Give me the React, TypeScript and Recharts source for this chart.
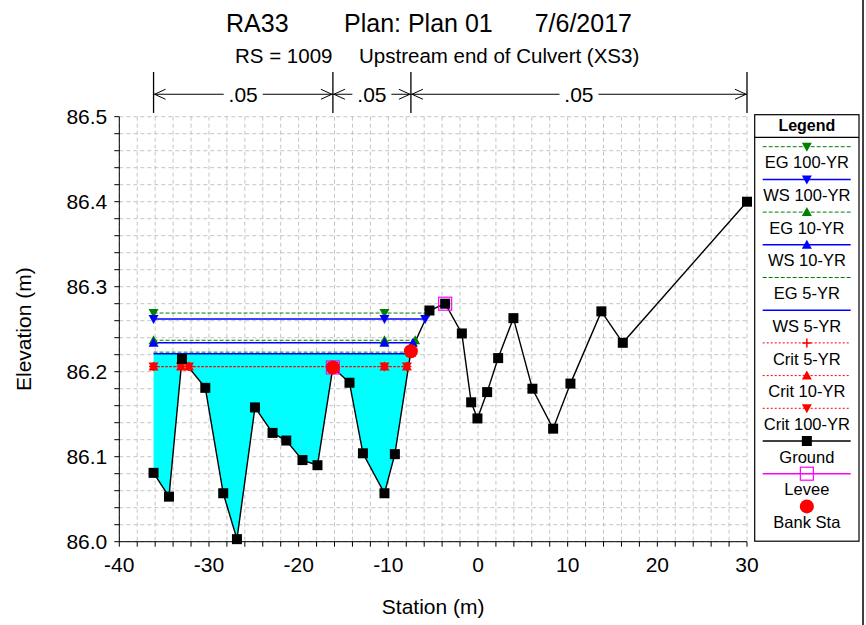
import React from 'react';
import { ComposedChart, Line, Area, XAxis, YAxis, CartesianGrid, ReferenceLine } from 'recharts';

// ground profile (station m, elevation m)
const groundStation = [-36.18, -34.46, -33.01, -30.41, -28.41, -26.88, -24.87, -22.91, -21.38, -19.57, -17.9,
  -16.18, -14.33, -12.83, -10.43, -9.27, -7.48, -5.41, -3.66, -1.8, -0.76, -0.06, 1.02, 2.25, 3.95, 6.07,
  8.38, 10.31, 13.76, 16.15, 30.0];
const groundElev = [86.081, 86.053, 86.215, 86.181, 86.057, 86.003, 86.158, 86.128, 86.119, 86.096, 86.09,
  86.205, 86.187, 86.104, 86.057, 86.103, 86.224, 86.272, 86.28, 86.245, 86.164, 86.145, 86.176, 86.216,
  86.263, 86.18, 86.133, 86.186, 86.271, 86.234, 86.4];

const leveeStation = [-16.18, -3.66];
const leveeElev = [86.205, 86.28];
const bankStation = [-16.18, -7.48];
const bankElev = [86.205, 86.224];

// water surfaces
const wsNames = ['EG 100-YR', 'WS 100-YR', 'EG 10-YR', 'WS 10-YR', 'EG 5-YR', 'WS 5-YR'];
const wsLevels = [86.269, 86.262, 86.237, 86.234, 86.223, 86.221];
const wsStations = [
  [-36.18, -10.43, -5.48],
  [-36.18, -10.43, -5.89],
  [-36.18, -10.43, -7.0],
  [-36.18, -10.43, -7.26],
  [-36.18, -7.5],
  [-36.18, -7.52],
];
const critNames = ['Crit 5-YR', 'Crit 10-YR', 'Crit 100-YR'];
const critLevel = 86.206;
const critStations = [-36.18, -33.12, -32.23, -16.18, -10.43, -7.93];
const fillEndStation = -7.52; // WS 5-YR meets ground here
const fillLevel = 86.221;

// manning's n breaks
const nBreaks = [-36.18, -16.18, -7.48, 30];
const nValues = ['.05', '.05', '.05'];

const legendNames = [...wsNames, ...critNames, 'Ground', 'Levee', 'Bank Sta'];

const xTicks = Array.from({ length: 36 }, (_, i) => -40 + 2 * i);
const yTicks = Array.from({ length: 26 }, (_, i) => +(86 + 0.02 * i).toFixed(2));

const GREEN = '#008000';
const BLUE = '#0000ff';
const RED = '#ff0000';

const styles: Record<string, { stroke: string; dash?: string; width: number; marker?: string; color?: string }> = {
  'EG 100-YR': { stroke: GREEN, dash: '4 2', width: 1, marker: 'down' },
  'WS 100-YR': { stroke: BLUE, width: 1.5, marker: 'down' },
  'EG 10-YR': { stroke: GREEN, dash: '4 2', width: 1, marker: 'up' },
  'WS 10-YR': { stroke: BLUE, width: 1.5, marker: 'up' },
  'EG 5-YR': { stroke: GREEN, dash: '4 2', width: 1 },
  'WS 5-YR': { stroke: BLUE, width: 1.5 },
  'Crit 5-YR': { stroke: RED, dash: '2 2', width: 1, marker: 'plus' },
  'Crit 10-YR': { stroke: RED, dash: '2 2', width: 1, marker: 'up' },
  'Crit 100-YR': { stroke: RED, dash: '2 2', width: 1, marker: 'down' },
  'Ground': { stroke: '#000', width: 1.4, marker: 'square' },
  'Levee': { stroke: '#ff00ff', width: 1.5, marker: 'open' },
  'Bank Sta': { stroke: 'none', width: 0, marker: 'circle', color: RED },
};

function Marker({ kind, color, cx, cy }: { kind?: string; color: string; cx: number; cy: number }) {
  if (kind === 'down')
    return <polygon points={`${cx - 5},${cy - 4} ${cx + 5},${cy - 4} ${cx},${cy + 5}`} fill={color} />;
  if (kind === 'up')
    return <polygon points={`${cx - 5},${cy + 4} ${cx + 5},${cy + 4} ${cx},${cy - 5}`} fill={color} />;
  if (kind === 'plus')
    return <path d={`M${cx - 4.5},${cy}H${cx + 4.5}M${cx},${cy - 4.5}V${cy + 4.5}`} stroke={color} strokeWidth={1.5} />;
  if (kind === 'square') return <rect x={cx - 5} y={cy - 5} width={10} height={10} fill={color} />;
  if (kind === 'open')
    return <rect x={cx - 6.5} y={cy - 6.5} width={13} height={13} fill="none" stroke="#ff00ff" strokeWidth={1.2} />;
  if (kind === 'circle') return <circle cx={cx} cy={cy} r={7} fill={color} />;
  return <g />;
}

const dotFor = (name: string) => (p: any) => {
  const s = styles[name];
  return <Marker key={`${name}-${p.index}`} kind={s.marker} color={s.color || s.stroke} cx={p.cx} cy={p.cy} />;
};

const groundData = groundStation.map((x, i) => ({ x, y: groundElev[i] }));
const leveeData = leveeStation.map((x, i) => ({ x, y: leveeElev[i] }));
const bankData = bankStation.map((x, i) => ({ x, y: bankElev[i] }));
const wsData = wsStations.map((xs, i) => xs.map(x => ({ x, y: wsLevels[i] })));
const critData = critStations.map(x => ({ x, y: critLevel }));
const fillData = [
  ...groundStation.filter(x => x < fillEndStation).map((x, i) => ({ x, r: [groundElev[i], fillLevel] })),
  { x: fillEndStation, r: [fillLevel, fillLevel] },
];

const nY = 86.5264;
const nSpan = (label: string) => (p: any) => {
  const { x1, x2, y1 } = p;
  const mid = (x1 + x2) / 2;
  const half = 19.5;
  return (
    <g>
      <line x1={x1} y1={y1} x2={mid - half} y2={y1} stroke="#000" />
      <line x1={mid + half} y1={y1} x2={x2} y2={y1} stroke="#000" />
      <polyline points={`${x1 + 12},${y1 - 5} ${x1 + 1},${y1} ${x1 + 12},${y1 + 5}`} fill="none" stroke="#000" />
      <polyline points={`${x2 - 12},${y1 - 5} ${x2 - 1},${y1} ${x2 - 12},${y1 + 5}`} fill="none" stroke="#000" />
      <text x={mid} y={y1} dy="0.36em" textAnchor="middle" fontSize={21} fill="#000">{label}</text>
    </g>
  );
};

const fmtX = (v: number) => (v % 10 === 0 ? String(v) : '');
const fmtY = (v: number) => (Math.abs(v * 10 - Math.round(v * 10)) < 1e-6 ? v.toFixed(1) : '');

function LegendBox() {
  const left = 754.7, top = 114.7, w = 104.3, h = 426.5;
  const cx = left + w / 2;
  return (
    <g>
      <rect x={left} y={top} width={w} height={h} fill="#fff" stroke="#000" strokeWidth={1.2} />
      <line x1={left} y1={137.3} x2={left + w} y2={137.3} stroke="#000" strokeWidth={1.2} />
      <text x={cx} y={131} textAnchor="middle" fontSize={16} fontWeight="bold">Legend</text>
      {legendNames.map((name, i) => {
        const s = styles[name];
        const y = 146.7 + 32.7 * i;
        return (
          <g key={name}>
            {s.stroke !== 'none' && (
              <line x1={762.7} y1={y} x2={850.7} y2={y} stroke={s.stroke} strokeWidth={s.width} strokeDasharray={s.dash} />
            )}
            <Marker kind={s.marker} color={s.color || s.stroke} cx={cx} cy={y} />
            <text x={cx} y={y + 21.6} textAnchor="middle" fontSize={16.5}>{name}</text>
          </g>
        );
      })}
    </g>
  );
}

export default function App() {
  return (
    <div style={{ position: 'absolute', left: 0, top: 0, width: 866, height: 625, background: '#fff',
      fontFamily: '"Liberation Sans", Arial, sans-serif' }}>
      <ComposedChart width={866} height={625} margin={{ top: 116.7, right: 119, bottom: 0, left: 0 }}>
        <CartesianGrid stroke="#c4c4c4" strokeDasharray="4 3" />
        <XAxis type="number" dataKey="x" domain={[-40, 30]} ticks={xTicks} interval={0} tickFormatter={fmtX}
          height={83.3} tickSize={5} tickMargin={10} stroke="#000" tick={{ fill: '#000', fontSize: 21 }}
          label={{ value: 'Station (m)', position: 'insideBottom', offset: 11, fill: '#000', fontSize: 21 }} />
        <YAxis type="number" domain={[86, 86.5]} ticks={yTicks} interval={0} tickFormatter={fmtY}
          width={119.3} tickSize={5} tickMargin={7} stroke="#000" tick={{ fill: '#000', fontSize: 21 }}
          label={{ value: 'Elevation (m)', angle: -90, position: 'insideLeft', offset: 24, fill: '#000', fontSize: 21,
            style: { textAnchor: 'middle' } }} />
        <Area data={fillData} dataKey="r" type="linear" fill="#00ffff" fillOpacity={1} stroke="none"
          isAnimationActive={false} activeDot={false} />
        {wsNames.map((name, i) => (
          <Line key={name} data={wsData[i]} dataKey="y" type="linear" stroke={styles[name].stroke}
            strokeWidth={styles[name].width} strokeDasharray={styles[name].dash}
            dot={styles[name].marker ? dotFor(name) : false} activeDot={false} isAnimationActive={false} />
        ))}
        {critNames.map(name => (
          <Line key={name} data={critData} dataKey="y" type="linear" stroke={RED} strokeWidth={1}
            strokeDasharray="2 2" dot={dotFor(name)} activeDot={false} isAnimationActive={false} />
        ))}
        <Line data={groundData} dataKey="y" type="linear" stroke="#000" strokeWidth={1.4}
          dot={dotFor('Ground')} activeDot={false} isAnimationActive={false} />
        <Line data={leveeData} dataKey="y" type="linear" stroke="none" dot={dotFor('Levee')}
          activeDot={false} isAnimationActive={false} />
        <Line data={bankData} dataKey="y" type="linear" stroke="none" dot={dotFor('Bank Sta')}
          activeDot={false} isAnimationActive={false} />
        {nBreaks.map(x => (
          <ReferenceLine key={`b${x}`} segment={[{ x, y: 86.5044 }, { x, y: 86.5526 }]} stroke="#000"
            strokeWidth={1.3} ifOverflow="visible" />
        ))}
        {nValues.map((v, i) => (
          <ReferenceLine key={`n${i}`} segment={[{ x: nBreaks[i], y: nY }, { x: nBreaks[i + 1], y: nY }]}
            ifOverflow="visible" shape={nSpan(v)} />
        ))}
      </ComposedChart>
      <svg width={866} height={625} style={{ position: 'absolute', left: 0, top: 0, pointerEvents: 'none' }}>
        <text x={226} y={32} fontSize={25}>RA33</text>
        <text x={344} y={32} fontSize={25}>Plan: Plan 01</text>
        <text x={632} y={32} fontSize={25} textAnchor="end">7/6/2017</text>
        <text x={235} y={63} fontSize={20.5}>RS = 1009</text>
        <text x={359} y={63} fontSize={20.5}>Upstream end of Culvert (XS3)</text>
        <LegendBox />
        <line x1={863} y1={0} x2={863} y2={625} stroke="#000" strokeWidth={1.5} />
      </svg>
    </div>
  );
}
